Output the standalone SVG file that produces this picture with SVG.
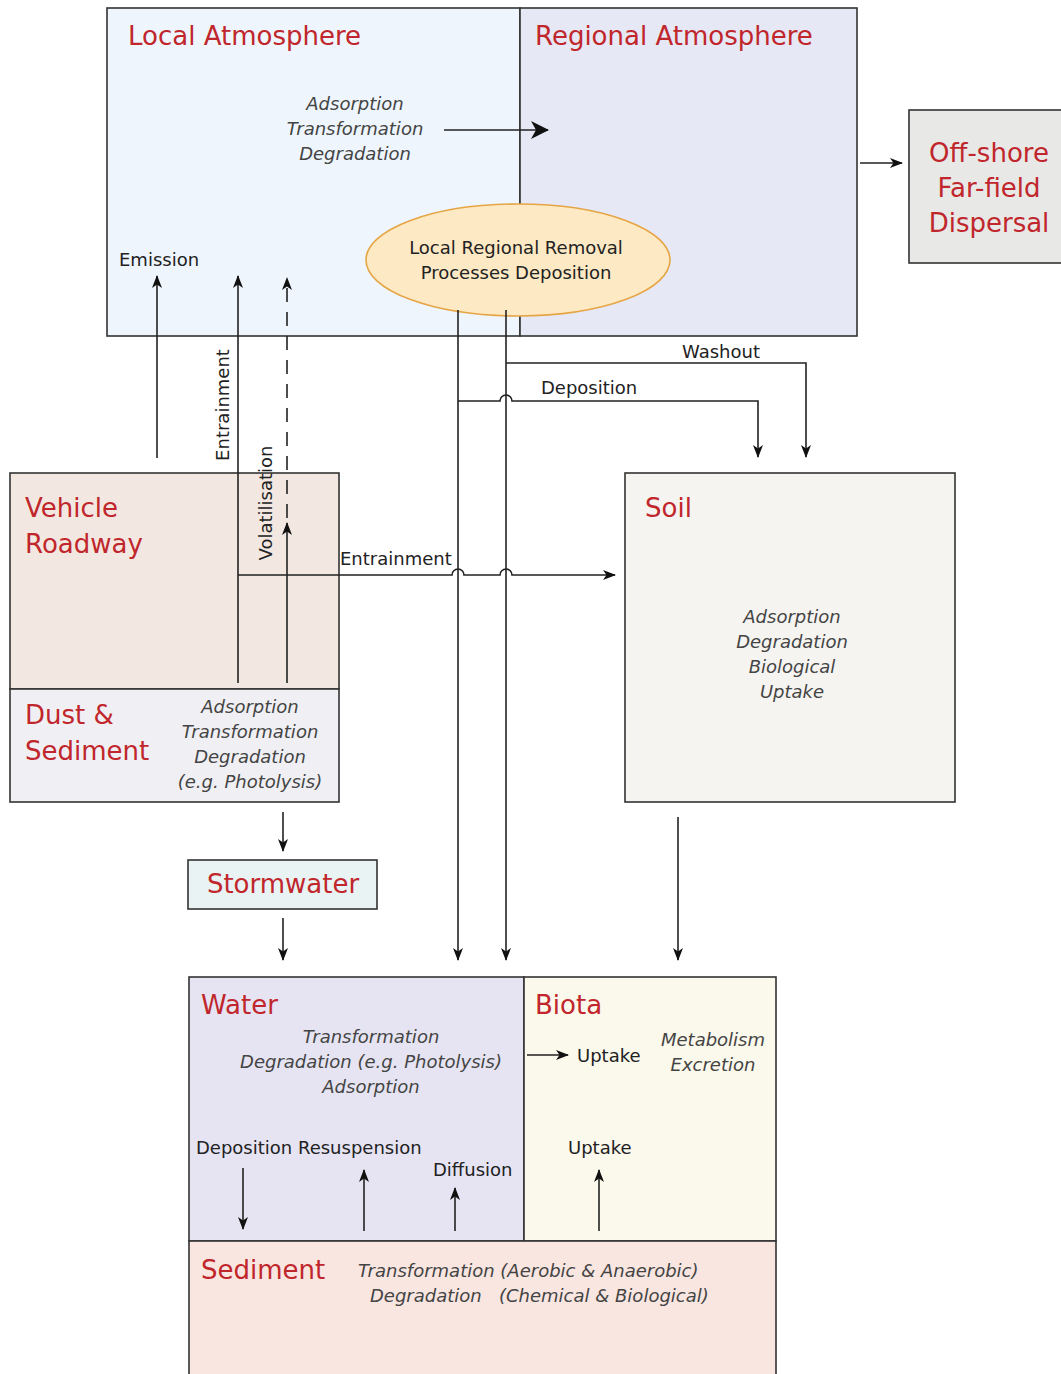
<svg xmlns="http://www.w3.org/2000/svg" width="1061" height="1374" viewBox="0 0 1061 1374">
<style>
.box{stroke:#333;stroke-width:1.6}
.title{font-family:"DejaVu Sans","Liberation Sans",sans-serif;font-size:26px;fill:#c0262b}
.it{font-family:"DejaVu Sans","Liberation Sans",sans-serif;font-size:18px;font-style:italic;fill:#444;text-anchor:middle}
.its{font-family:"DejaVu Sans","Liberation Sans",sans-serif;font-size:18px;font-style:italic;fill:#444;text-anchor:start}
.lbl{font-family:"DejaVu Sans","Liberation Sans",sans-serif;font-size:18px;fill:#222}
.ln{fill:none;stroke:#222;stroke-width:1.6}
</style>
<defs>
<marker id="ah" markerWidth="14" markerHeight="12" refX="12" refY="5" orient="auto" markerUnits="userSpaceOnUse">
<path d="M0,0 L13,5 L0,10 L3.5,5 z" fill="#111"/>
</marker>
<marker id="ahL" markerWidth="22" markerHeight="22" refX="17" refY="9" orient="auto" markerUnits="userSpaceOnUse">
<path d="M0,0 L18,9 L0,18 L5,9 z" fill="#111"/>
</marker>
</defs>
<rect width="1061" height="1374" fill="#fff"/>

<g id="local-atmosphere">
<rect class="box" x="107" y="8" width="413" height="328" fill="#eef5fc"/>
<text class="title" x="128" y="45">Local Atmosphere</text>
<text class="it" x="355" y="110">Adsorption</text>
<text class="it" x="355" y="135">Transformation</text>
<text class="it" x="355" y="160">Degradation</text>
<text class="lbl" x="119" y="266">Emission</text>
</g>
<g id="regional-atmosphere">
<rect class="box" x="520" y="8" width="337" height="328" fill="#e6e8f5"/>
<text class="title" x="535" y="45">Regional Atmosphere</text>
</g>
<g id="removal">
<ellipse cx="518" cy="260" rx="152" ry="56" fill="#fde9c4" stroke="#e6a545" stroke-width="1.6"/>
<text class="lbl" x="516" y="254" text-anchor="middle">Local Regional Removal</text>
<text class="lbl" x="516" y="279" text-anchor="middle">Processes Deposition</text>
</g>
<g id="offshore">
<rect class="box" x="909" y="110" width="160" height="153" fill="#e8e8e6"/>
<text class="title" x="989" y="162" text-anchor="middle">Off-shore</text>
<text class="title" x="989" y="197" text-anchor="middle">Far-field</text>
<text class="title" x="989" y="232" text-anchor="middle">Dispersal</text>
</g>
<g id="vehicle-roadway">
<rect class="box" x="10" y="473" width="329" height="216" fill="#f2e8e1"/>
<text class="title" x="25" y="517">Vehicle</text>
<text class="title" x="25" y="553">Roadway</text>
</g>
<g id="dust-sediment">
<rect class="box" x="10" y="689" width="329" height="113" fill="#f0f0f4"/>
<text class="title" x="25" y="724">Dust &amp;</text>
<text class="title" x="25" y="760">Sediment</text>
<text class="it" x="250" y="713">Adsorption</text>
<text class="it" x="250" y="738">Transformation</text>
<text class="it" x="250" y="763">Degradation</text>
<text class="it" x="250" y="788">(e.g. Photolysis)</text>
</g>
<g id="stormwater">
<rect class="box" x="188" y="860" width="189" height="49" fill="#e9f3f3"/>
<text class="title" x="283" y="893" text-anchor="middle">Stormwater</text>
</g>
<g id="soil">
<rect class="box" x="625" y="473" width="330" height="329" fill="#f6f4f1"/>
<text class="title" x="645" y="517">Soil</text>
<text class="it" x="792" y="623">Adsorption</text>
<text class="it" x="792" y="648">Degradation</text>
<text class="it" x="792" y="673">Biological</text>
<text class="it" x="792" y="698">Uptake</text>
</g>
<g id="water">
<rect class="box" x="189" y="977" width="335" height="264" fill="#e6e4f2"/>
<text class="title" x="201" y="1014">Water</text>
<text class="it" x="371" y="1043">Transformation</text>
<text class="it" x="371" y="1068">Degradation (e.g. Photolysis)</text>
<text class="it" x="371" y="1093">Adsorption</text>
<text class="lbl" x="196" y="1154">Deposition Resuspension</text>
<text class="lbl" x="433" y="1176">Diffusion</text>
</g>
<g id="biota">
<rect class="box" x="524" y="977" width="252" height="264" fill="#fbf8ec"/>
<text class="title" x="535" y="1014">Biota</text>
<text class="lbl" x="577" y="1062">Uptake</text>
<text class="it" x="713" y="1046">Metabolism</text>
<text class="it" x="713" y="1071">Excretion</text>
<text class="lbl" x="568" y="1154">Uptake</text>
</g>
<g id="sediment">
<rect class="box" x="189" y="1241" width="587" height="140" fill="#f9e6e1"/>
<text class="title" x="201" y="1279">Sediment</text>
<text class="its" x="358" y="1277">Transformation (Aerobic &amp; Anaerobic)</text>
<text class="its" x="370" y="1302">Degradation</text>
<text class="its" x="499" y="1302">(Chemical &amp; Biological)</text>
</g>

<g id="connectors">
<line class="ln" x1="444" y1="130" x2="548" y2="130" marker-end="url(#ahL)"/>
<line class="ln" x1="860" y1="163" x2="902" y2="163" marker-end="url(#ah)"/>
<line class="ln" x1="157" y1="458" x2="157" y2="276" marker-end="url(#ah)"/>
<line class="ln" x1="238" y1="683" x2="238" y2="276" marker-end="url(#ah)"/>
<path class="ln" d="M238,575 H452 a6,6 0 0 1 12,0 H500 a6,6 0 0 1 12,0 H615" marker-end="url(#ah)"/>
<line class="ln" x1="287" y1="683" x2="287" y2="523" marker-end="url(#ah)"/>
<line class="ln" x1="287" y1="518" x2="287" y2="278" stroke-dasharray="14,10" marker-end="url(#ah)"/>
<line class="ln" x1="458" y1="310" x2="458" y2="960" marker-end="url(#ah)"/>
<line class="ln" x1="506" y1="310" x2="506" y2="960" marker-end="url(#ah)"/>
<path class="ln" d="M506,363 H806 V457" marker-end="url(#ah)"/>
<path class="ln" d="M458,401 H500 a6,6 0 0 1 12,0 H758 V457" marker-end="url(#ah)"/>
<line class="ln" x1="283" y1="812" x2="283" y2="851" marker-end="url(#ah)"/>
<line class="ln" x1="283" y1="918" x2="283" y2="960" marker-end="url(#ah)"/>
<line class="ln" x1="678" y1="817" x2="678" y2="960" marker-end="url(#ah)"/>
<line class="ln" x1="527" y1="1055" x2="568" y2="1055" marker-end="url(#ah)"/>
<line class="ln" x1="243" y1="1168" x2="243" y2="1229" marker-end="url(#ah)"/>
<line class="ln" x1="364" y1="1231" x2="364" y2="1170" marker-end="url(#ah)"/>
<line class="ln" x1="455" y1="1231" x2="455" y2="1188" marker-end="url(#ah)"/>
<line class="ln" x1="599" y1="1231" x2="599" y2="1170" marker-end="url(#ah)"/>
</g>
<g id="rotated-labels">
<text class="lbl" transform="translate(229,405) rotate(-90)" text-anchor="middle">Entrainment</text>
<text class="lbl" transform="translate(272,503) rotate(-90)" text-anchor="middle">Volatilisation</text>
<text class="lbl" x="340" y="565">Entrainment</text>
<text class="lbl" x="682" y="358">Washout</text>
<text class="lbl" x="541" y="394">Deposition</text>
</g>
</svg>
